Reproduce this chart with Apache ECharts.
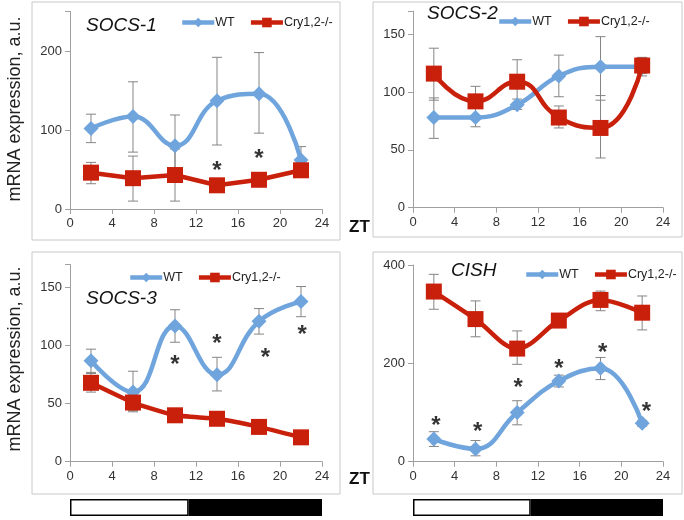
<!DOCTYPE html>
<html>
<head>
<meta charset="utf-8">
<script src="https://cdn.jsdelivr.net/npm/echarts@6/dist/echarts.min.js"></script>
<style>
  html, body { margin: 0; padding: 0; background: #fff; }
  #chart { width: 684px; height: 520px; }
</style>
</head>
<body>
<div id="chart"></div>
<script>
// time points (ZT)
var zt = [2, 6, 10, 14, 18, 22];

// SOCS-1
var wt1 = [102, 117, 80, 137, 146, 62];
var wt1Err = [[84, 120], [72, 161], [41, 119], [81, 192], [96, 198], [45, 79]];
var cry1 = [46, 39, 43, 30, 37, 49];
var cry1Err = [[32, 59], [10, 67], [10, 76], [24, 36], [31, 43], [42, 56]];
var star1 = [[14, 55], [18, 70]];

// SOCS-2
var wt2 = [78, 78, 89, 114, 122, 122];
var wt2Err = [[60, 95], [70, 87], [85, 94], [96, 132], [93, 148], [114, 130]];
var cry2 = [116, 92, 109, 78, 69, 123];
var cry2Err = [[93, 138], [86, 105], [90, 128], [69, 88], [43, 97], [116, 130]];
var star2 = [];

// SOCS-3
var wt3 = [87, 60, 117, 75, 121, 138];
var wt3Err = [[76, 97], [44, 78], [103, 131], [61, 90], [110, 132], [125, 151]];
var cry3 = [68, 51, 40, 37, 30, 21];
var cry3Err = [[60, 77], [43, 57], [37, 43], [34, 40], [27, 33], [18, 24]];
var star3 = [[10, 88], [14, 106], [18.6, 94], [22.1, 114]];

// CISH
var wt4 = [46, 26, 100, 164, 190, 78];
var wt4Err = [[31, 61], [12, 43], [75, 124], [152, 176], [167, 212], [72, 84]];
var cry4 = [346, 290, 230, 287, 329, 303];
var cry4Err = [[310, 381], [254, 327], [198, 266], [277, 297], [307, 347], [268, 337]];
var star4 = [[2.2, 85], [6.2, 71], [10.1, 161], [14, 199], [18.2, 232], [22.4, 112]];

// light / dark phase bar (ZT lengths)
var lightLen = [11.3];
var darkLen = [12.7];

var titles = ['SOCS-1', 'SOCS-2', 'SOCS-3', 'CISH'];
var yMax = [250, 170, 170, 400];
var yStep = [100, 50, 50, 200];

var BLUE = '#6fa4dc';
var RED = '#c9200c';
var FONT = 'Liberation Sans, Arial, sans-serif';

var panels = [
  { wt: wt1, wtErr: wt1Err, cry: cry1, cryErr: cry1Err, star: star1, crySmooth: false },
  { wt: wt2, wtErr: wt2Err, cry: cry2, cryErr: cry2Err, star: star2, crySmooth: 0.5 },
  { wt: wt3, wtErr: wt3Err, cry: cry3, cryErr: cry3Err, star: star3, crySmooth: 0.15 },
  { wt: wt4, wtErr: wt4Err, cry: cry4, cryErr: cry4Err, star: star4, crySmooth: 0.35 }
];

var grids = [
  { left: 70, top: 11.5, width: 252, height: 197.5 },
  { left: 413, top: 11.2, width: 250, height: 196.5 },
  { left: 70, top: 264.5, width: 252, height: 197.2 },
  { left: 413, top: 265, width: 250, height: 196.7 },
  // phase bars
  { left: 70, top: 499, width: 252, height: 17 },
  { left: 413, top: 499, width: 250, height: 17 }
];

var xAxes = [];
var yAxes = [];
var series = [];

function errorBars(idx, errs) {
  return {
    type: 'custom',
    xAxisIndex: idx,
    yAxisIndex: idx,
    z: 1,
    silent: true,
    data: zt.map(function (x, i) { return [x, errs[i][0], errs[i][1]]; }),
    renderItem: function (params, api) {
      var lo = api.coord([api.value(0), api.value(1)]);
      var hi = api.coord([api.value(0), api.value(2)]);
      var st = { stroke: '#858585', lineWidth: 1 };
      return {
        type: 'group',
        children: [
          { type: 'line', shape: { x1: lo[0], y1: lo[1], x2: hi[0], y2: hi[1] }, style: st },
          { type: 'line', shape: { x1: lo[0] - 5, y1: lo[1], x2: lo[0] + 5, y2: lo[1] }, style: st },
          { type: 'line', shape: { x1: hi[0] - 5, y1: hi[1], x2: hi[0] + 5, y2: hi[1] }, style: st }
        ]
      };
    }
  };
}

panels.forEach(function (p, idx) {
  xAxes.push({
    gridIndex: idx,
    type: 'value',
    min: 0,
    max: 24,
    interval: 4,
    splitLine: { show: false },
    axisLine: { lineStyle: { color: '#a0a0a0' } },
    axisTick: { show: true, length: 5, lineStyle: { color: '#a0a0a0' } },
    axisLabel: { color: '#333', fontSize: 13, fontFamily: FONT, margin: 8 }
  });
  yAxes.push({
    gridIndex: idx,
    type: 'value',
    min: 0,
    max: yMax[idx],
    interval: yStep[idx],
    splitLine: { show: false },
    axisLine: { show: true, lineStyle: { color: '#a0a0a0' } },
    axisTick: { show: true, length: 5, lineStyle: { color: '#a0a0a0' } },
    axisLabel: {
      color: '#333', fontSize: 13, fontFamily: FONT, margin: 8,
      formatter: function (v) { return v % yStep[idx] === 0 ? String(v) : ''; }
    }
  });

  series.push(errorBars(idx, p.wtErr));
  series.push(errorBars(idx, p.cryErr));

  series.push({
    name: 'WT',
    type: 'line',
    xAxisIndex: idx,
    yAxisIndex: idx,
    z: 3,
    smooth: 0.45,
    symbol: 'diamond',
    symbolSize: 15,
    color: BLUE,
    lineStyle: { width: 4.5, color: BLUE },
    itemStyle: { color: BLUE },
    data: zt.map(function (x, i) { return [x, p.wt[i]]; })
  });
  series.push({
    name: 'Cry1,2-/-',
    type: 'line',
    xAxisIndex: idx,
    yAxisIndex: idx,
    z: 4,
    smooth: p.crySmooth,
    symbol: 'rect',
    symbolSize: 16,
    color: RED,
    lineStyle: { width: 4.5, color: RED },
    itemStyle: { color: RED },
    data: zt.map(function (x, i) { return [x, p.cry[i]]; })
  });
  series.push({
    type: 'scatter',
    xAxisIndex: idx,
    yAxisIndex: idx,
    z: 5,
    silent: true,
    symbolSize: 1,
    itemStyle: { color: 'rgba(0,0,0,0)' },
    label: {
      show: true,
      position: 'inside',
      formatter: '*',
      color: '#000',
      fontSize: 24,
      fontWeight: 'bold',
      fontFamily: FONT,
      offset: [0, 6]
    },
    data: p.star
  });
});

// phase bar axes + series
[4, 5].forEach(function (g) {
  xAxes.push({ gridIndex: g, type: 'value', min: 0, max: 24, show: false });
  yAxes.push({ gridIndex: g, type: 'category', data: ['LD'], show: false });
  series.push({
    type: 'bar', xAxisIndex: g, yAxisIndex: g, stack: 'ld' + g, silent: true,
    barWidth: 17,
    itemStyle: { color: '#fff', borderColor: '#000', borderWidth: 1.5 },
    data: lightLen
  });
  series.push({
    type: 'bar', xAxisIndex: g, yAxisIndex: g, stack: 'ld' + g, silent: true,
    barWidth: 17,
    itemStyle: { color: '#000', borderColor: '#000', borderWidth: 1.5 },
    data: darkLen
  });
});

var legendPos = [
  { left: 180, top: 16 },
  { left: 497, top: 15 },
  { left: 128, top: 271 },
  { left: 524, top: 268 }
];

var titlePos = [
  { left: 86, top: 16 },
  { left: 427, top: 4 },
  { left: 86, top: 289 },
  { left: 451, top: 261 }
];

var option = {
  backgroundColor: '#fff',
  animation: false,
  title: titles.map(function (t, i) {
    return {
      text: t,
      left: titlePos[i].left,
      top: titlePos[i].top,
      padding: 0,
      textStyle: { fontSize: 19, fontStyle: 'italic', fontWeight: 'normal', color: '#111', fontFamily: FONT }
    };
  }),
  legend: legendPos.map(function (lp) {
    return {
      left: lp.left,
      top: lp.top,
      padding: 0,
      itemWidth: 32,
      itemHeight: 12,
      itemGap: 14,
      selectedMode: false,
      lineStyle: { width: 4.5 },
      textStyle: { fontSize: 12.5, color: '#222', fontFamily: FONT, padding: [0, 0, 0, -4] },
      data: ['WT', 'Cry1,2-/-']
    };
  }),
  grid: grids,
  xAxis: xAxes,
  yAxis: yAxes,
  series: series,
  graphic: [
    { type: 'rect', shape: { x: 32, y: 2, width: 308, height: 238 }, style: { fill: 'none', stroke: '#c8c8c8', lineWidth: 1 } },
    { type: 'rect', shape: { x: 373, y: 2, width: 309, height: 235 }, style: { fill: 'none', stroke: '#c8c8c8', lineWidth: 1 } },
    { type: 'rect', shape: { x: 32, y: 252, width: 308, height: 242 }, style: { fill: 'none', stroke: '#c8c8c8', lineWidth: 1 } },
    { type: 'rect', shape: { x: 373, y: 252, width: 309, height: 242 }, style: { fill: 'none', stroke: '#c8c8c8', lineWidth: 1 } },
    { type: 'text', x: 349, y: 219, style: { text: 'ZT', font: 'bold 17px ' + FONT, fill: '#111' } },
    { type: 'text', x: 349, y: 471, style: { text: 'ZT', font: 'bold 17px ' + FONT, fill: '#111' } },
    { type: 'text', x: 15, y: 109, rotation: Math.PI / 2, style: { text: 'mRNA expression, a.u.', font: '18px ' + FONT, fill: '#222', align: 'center', verticalAlign: 'middle' } },
    { type: 'text', x: 15, y: 359, rotation: Math.PI / 2, style: { text: 'mRNA expression, a.u.', font: '18px ' + FONT, fill: '#222', align: 'center', verticalAlign: 'middle' } }
  ]
};

var chart = echarts.init(document.getElementById('chart'));
chart.setOption(option);
</script>
</body>
</html>
